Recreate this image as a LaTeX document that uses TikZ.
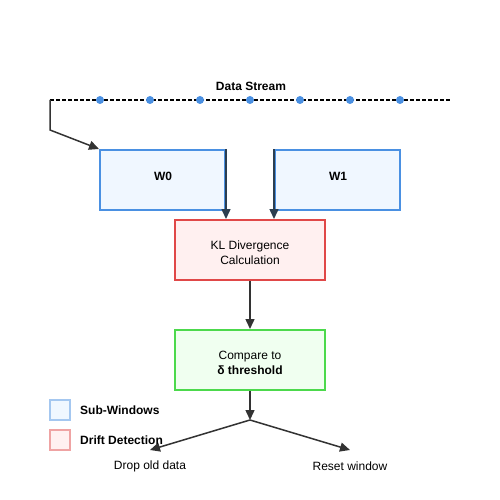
\documentclass[tikz,border=0pt]{standalone}
\usepackage{fontspec}
\setmainfont{Liberation Sans}
\usetikzlibrary{arrows.meta}
\definecolor{wblue}{HTML}{4A90E2}
\definecolor{wfill}{HTML}{F0F7FF}
\definecolor{kred}{HTML}{E04848}
\definecolor{kfill}{HTML}{FFF0F0}
\definecolor{cgreen}{HTML}{4CD94C}
\definecolor{cfill}{HTML}{F0FFF0}
\definecolor{arr}{HTML}{333333}
\definecolor{arrdark}{HTML}{2C3E50}
\begin{document}
\begin{tikzpicture}[x=1pt,y=-1pt,
  box/.style={draw, line width=2pt, minimum width=125pt, minimum height=60pt, inner sep=0pt},
  wbox/.style={box, draw=wblue, fill=wfill},
  pbox/.style={draw, line width=2pt, minimum width=150pt, minimum height=60pt, inner sep=0pt},
  boxtxt/.style={inner sep=0pt, align=center, font=\fontsize{12}{15}\selectfont},
  arrowline/.style={draw=arr, line width=1.5pt, -{Triangle[length=10pt,width=9pt]}},
  darrow/.style={draw=arrdark, line width=1.5pt, -{Triangle[length=10pt,width=9pt]}},
  dot/.style={circle, fill=wblue, inner sep=0pt, minimum size=8pt},
  lbl/.style={font=\fontsize{12}{14}\selectfont},
  leg/.style={draw, line width=1.5pt, minimum width=20pt, minimum height=20pt, inner sep=0pt},
  legtxt/.style={anchor=west, inner sep=0pt, font=\fontsize{12}{14}\selectfont\bfseries}]
\useasboundingbox (0,0) rectangle (500,500);
% data stream
\coordinate (sL) at (50,100);
\coordinate (sR) at (450,100);
\draw[black, line width=1.5pt, dash pattern=on 4pt off 2pt] (sL) -- (sR);
\node[font=\fontsize{12}{14}\selectfont\bfseries] (ds) at (251,86) {Data Stream};
\foreach \i in {1,...,7} { \node[dot] (d\i) at (50+50*\i,100) {}; }
% windows
\node[wbox] (w0) at (162.5,180) {};
\node[wbox] (w1) at (337.5,180) {};
\node[boxtxt, font=\fontsize{12}{15}\selectfont\bfseries] (w0t) at (163,176) {W0};
\node[boxtxt, font=\fontsize{12}{15}\selectfont\bfseries] (w1t) at (338,176) {W1};
\coordinate (bend) at (50,130);
\draw[arrowline] (sL) -- (bend) -- (w0.north west);
% KL
\node[pbox, draw=kred, fill=kfill] (kl) at (250,250) {};
\node[boxtxt] (klt) at (250,252.5) {KL Divergence\\Calculation};
\draw[darrow] (w0.north east) -- (w0.north east |- kl.north);
\draw[darrow] (w1.north west) -- (w1.north west |- kl.north);
% compare
\node[pbox, draw=cgreen, fill=cfill] (cmp) at (250,360) {};
\node[boxtxt] (cmpt) at (250,362.5) {Compare to\\\textbf{δ threshold}};
\draw[arrowline] (kl.south) -- (cmp.north);
\coordinate (split) at (250,420);
\draw[arrowline] (cmp.south) -- (split);
\coordinate (lt) at (150,450);
\coordinate (rt) at (350,450);
\draw[arrowline] (split) -- (lt);
\draw[arrowline] (split) -- (rt);
\node[lbl] (drop) at (150,466) {Drop old data};
\node[lbl] (reset) at (350,466) {Reset window};
% legend
\node[leg, draw=wblue!50, fill=wfill] (l1) at (60,410) {};
\node[legtxt] (l1t) at (80,410.5) {Sub-Windows};
\node[leg, draw=kred!50, fill=kfill] (l2) at (60,440) {};
\node[legtxt] (l2t) at (80,440.5) {Drift Detection};
\end{tikzpicture}
\end{document}
